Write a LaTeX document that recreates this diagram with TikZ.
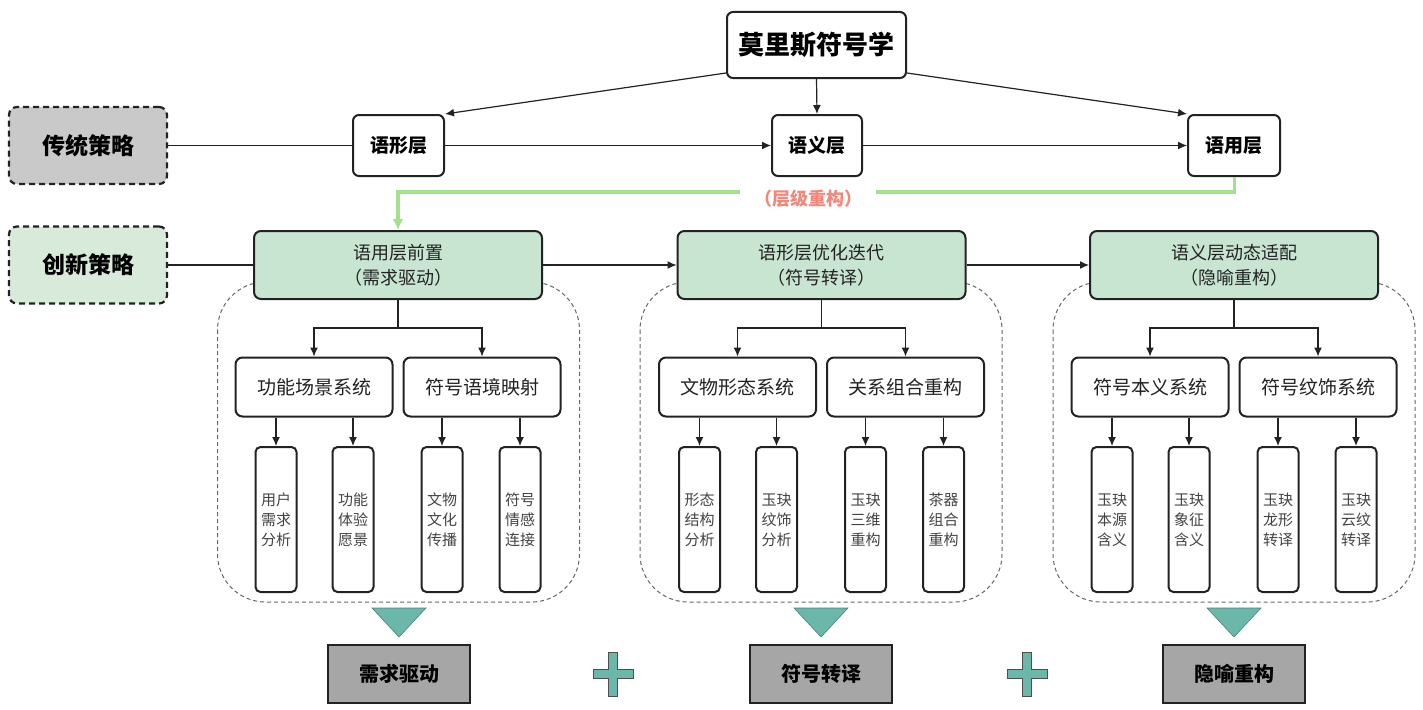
\documentclass[tikz,border=0pt]{standalone}
\usepackage{fontspec}
\setmainfont{Noto Sans CJK SC}
\usepackage{tikz}
\usetikzlibrary{positioning,calc,arrows.meta}
\definecolor{tradgray}{HTML}{C9C9C9}
\definecolor{innogreen}{HTML}{D8EBDB}
\definecolor{stagegreen}{HTML}{C8E5D2}
\definecolor{linkgreen}{HTML}{A3E28C}
\definecolor{labelred}{HTML}{F0887C}
\definecolor{jade}{HTML}{6BB8AB}
\definecolor{outgray}{HTML}{A6A6A6}
\definecolor{ink}{HTML}{222222}

\begin{document}
\begin{tikzpicture}[
    x=1pt, y=-1pt,
    arr/.style={-{Latex[length=9pt,width=8pt]}, line width=1.2pt, draw=ink},
    link/.style={line width=1.2pt, draw=ink},
    layer/.style={rectangle, rounded corners=6pt, draw=ink, line width=2pt, fill=white, minimum height=61pt, font=\fontsize{19}{22}\selectfont\bfseries},
    strat/.style={rectangle, rounded corners=8pt, draw=ink, dashed, dash pattern=on 6pt off 4pt, line width=2.2pt, minimum width=158pt, minimum height=77pt, font=\fontsize{23}{26}\selectfont\bfseries},
    stage/.style={rectangle, rounded corners=7pt, draw=ink, line width=2pt, fill=stagegreen, minimum width=288pt, minimum height=68pt, align=center, text=ink, font=\fontsize{18}{25}\selectfont},
    region/.style={draw=gray!80!black, line width=1pt, dash pattern=on 4pt off 3pt, rounded corners=48pt},
    sys/.style={rectangle, rounded corners=7pt, draw=ink, line width=2pt, fill=white, minimum width=157pt, minimum height=59pt, text=ink, font=\fontsize{19}{22}\selectfont},
    leaf/.style={rectangle, rounded corners=5pt, draw=ink, line width=2pt, fill=white, minimum width=41pt, minimum height=145pt, inner sep=0pt, align=center, text=ink!85, font=\fontsize{15}{20}\selectfont},
    tri/.style={fill=jade, draw=jade!70!black, line width=0.6pt},
    outbox/.style={rectangle, draw=ink, line width=2pt, fill=outgray, minimum width=142pt, minimum height=58pt, font=\fontsize{20}{24}\selectfont\bfseries}
]
    \useasboundingbox (0,0) rectangle (1423,709);

    \node[layer, minimum width=179pt, minimum height=66pt, font=\fontsize{26}{30}\selectfont\bfseries] (mor) at (816.5,45) {莫里斯符号学};
    \node[layer, minimum width=91pt] (s1) at (398.5,145.5) {语形层};
    \node[layer, minimum width=90pt] (s2) at (817,145.5) {语义层};
    \node[layer, minimum width=92pt] (s3) at (1234,145.5) {语用层};

    \node[strat, fill=tradgray] (trad) at (88,145.5) {传统策略};
    \node[strat, fill=innogreen] (inno) at (88,265) {创新策略};

    \draw[arr] ([yshift=6pt]mor.south west) -- (s1.north east);
    \draw[arr] (mor.south) -- (s2.north);
    \draw[arr] ([yshift=6pt]mor.south east) -- (s3.north west);

    \draw[link] (trad.east) -- (s1.west);
    \draw[arr] (s1.east) -- (s2.west);
    \draw[arr] (s2.east) -- (s3.west);

    % dashed groups behind the stage boxes
    \foreach \cx in {398.5,821,1234} {
        \draw[region] (\cx-181,282) rectangle (\cx+181,602);
    }

    \node[stage] (g1) at (398,265) {语用层前置\\（需求驱动）};
    \node[stage] (g2) at (821.5,265) {语形层优化迭代\\（符号转译）};
    \node[stage] (g3) at (1234,265) {语义层动态适配\\（隐喻重构）};

    \draw[link] (inno.east) -- (g1.west);
    \draw[arr] (g1.east) -- (g2.west);
    \draw[arr] (g2.east) -- (g3.west);

    \coordinate (k1) at (1234.5,192);
    \coordinate (k2) at (398,192);
    \draw[linkgreen, line width=3.5pt, -{Latex[length=11pt,width=11pt]}] (s3.south -| k1) -- (k1) -- (k2) -- (g1.north);
    \node[fill=white, inner xsep=14pt, inner ysep=2pt, text=labelred, font=\fontsize{18}{20}\selectfont\bfseries] (lbl) at (808,199) {（层级重构）};

    \foreach \i/\cx/\a/\b in {1/398/功能场景系统/符号语境映射, 2/821.5/文物形态系统/关系组合重构, 3/1234/符号本义系统/符号纹饰系统} {
        \node[sys] (ma\i) at (\cx-84,387) {\a};
        \node[sys] (mb\i) at (\cx+84,387) {\b};
        \coordinate (j\i) at (\cx,328);
        \draw[link] (g\i.south) -- (j\i);
        \draw[arr] (j\i) -| (ma\i.north);
        \draw[arr] (j\i) -| (mb\i.north);
    }

    \foreach \i/\cx/\la/\lb/\lc/\ld in {
        1/398/{用户\\需求\\分析}/{功能\\体验\\愿景}/{文物\\文化\\传播}/{符号\\情感\\连接},
        2/821.5/{形态\\结构\\分析}/{玉玦\\纹饰\\分析}/{玉玦\\三维\\重构}/{茶器\\组合\\重构},
        3/1234/{玉玦\\本源\\含义}/{玉玦\\象征\\含义}/{玉玦\\龙形\\转译}/{玉玦\\云纹\\转译}} {
        \node[leaf] (la\i) at (\cx-122,519.5) {\la};
        \node[leaf] (lb\i) at (\cx-45,519.5) {\lb};
        \node[leaf] (lc\i) at (\cx+44,519.5) {\lc};
        \node[leaf] (ld\i) at (\cx+122,519.5) {\ld};
        \draw[arr] (la\i.north |- ma\i.south) -- (la\i.north);
        \draw[arr] (lb\i.north |- ma\i.south) -- (lb\i.north);
        \draw[arr] (lc\i.north |- mb\i.south) -- (lc\i.north);
        \draw[arr] (ld\i.north |- mb\i.south) -- (ld\i.north);
    }

    \foreach \i/\cx/\t in {1/399/需求驱动, 2/821/符号转译, 3/1234/隐喻重构} {
        \filldraw[tri] (\cx-27,608) -- (\cx+27,608) -- (\cx,637) -- cycle;
        \node[outbox] (o\i) at (\cx,674) {\t};
    }

    \foreach \px in {613,1027} {
        \filldraw[fill=jade, draw=ink!80, line width=1pt] (\px-20,669.5) -- (\px-4.5,669.5) -- (\px-4.5,652) -- (\px+4.5,652) -- (\px+4.5,669.5) -- (\px+20,669.5) -- (\px+20,678.5) -- (\px+4.5,678.5) -- (\px+4.5,696) -- (\px-4.5,696) -- (\px-4.5,678.5) -- (\px-20,678.5) -- cycle;
    }

\end{tikzpicture}
\end{document}
